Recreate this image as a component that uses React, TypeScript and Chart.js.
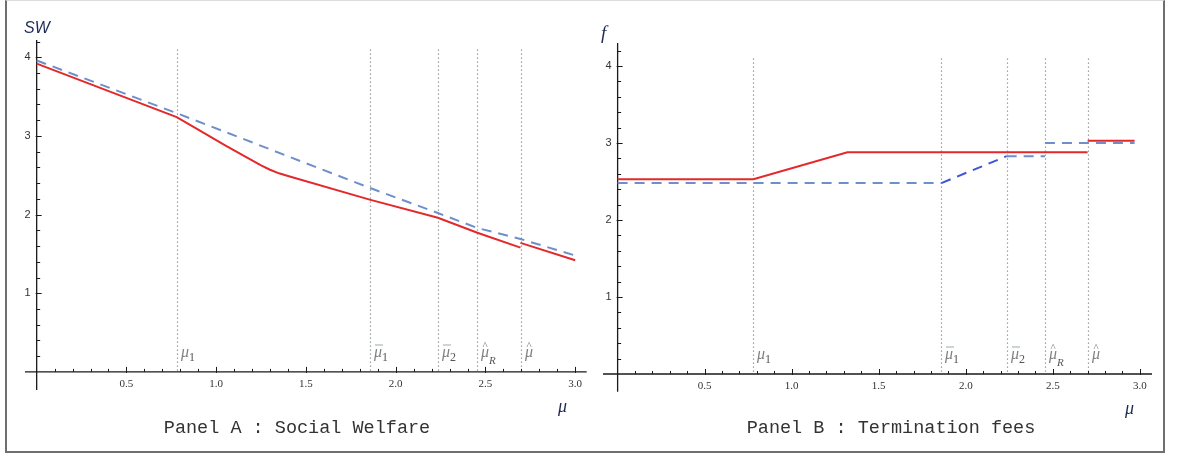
import React, { useEffect, useRef } from "react";
import { Chart, registerables } from "chart.js";
Chart.register(...registerables);

// ---- data ----
const MU_MARKS = [0.78, 1.855, 2.235, 2.455, 2.7];
const MU_LABELS = [
  { sub: "1", acc: "" },
  { sub: "1", acc: "bar" },
  { sub: "2", acc: "bar" },
  { sub: "R", acc: "hat" },
  { sub: "", acc: "hat" },
];
const X_TICKS = [0.5, 1.0, 1.5, 2.0, 2.5, 3.0];
const X_TICK_LABELS = ["0.5", "1.0", "1.5", "2.0", "2.5", "3.0"];
const Y_TICKS = [1, 2, 3, 4];
const Y_TICK_LABELS = ["1", "2", "3", "4"];

// Panel A : Social Welfare
const SW_RED_X = [0, 0.78, 0.9, 1.05, 1.2, 1.25, 1.3, 1.35, 1.4, 1.855, 2.235, 2.455, 2.695, 2.695, 2.695, 3.0];
const SW_RED_Y = [3.92, 3.24, 3.08, 2.88, 2.69, 2.625, 2.57, 2.525, 2.49, 2.19, 1.96, 1.77, 1.58, null, 1.64, 1.42];
const SW_BLUE_X = [0, 0.78, 1.855, 2.235, 2.455, 2.695, 3.0];
const SW_BLUE_Y = [3.96, 3.29, 2.34, 2.02, 1.83, 1.69, 1.48];

// Panel B : Termination fees
const F_RED_X = [0, 0.78, 1.32, 2.7, 2.7, 2.7, 2.97];
const F_RED_Y = [2.53, 2.53, 2.88, 2.88, null, 3.03, 3.03];
const F_BLUE_X = [0, 1.86, 2.235, 2.455, 2.455, 2.455, 2.97];
const F_BLUE_Y = [2.48, 2.48, 2.83, 2.83, null, 3.0, 3.0];

const RED = "#e3292b";
const BLUE = "#6e8fca";
const BLUE_RISE = "#3f55d4";

type Lab = { sub: string; acc: string };

function drawMu(ctx: CanvasRenderingContext2D, px: number, by: number, lab: Lab) {
  ctx.save();
  ctx.textAlign = "left";
  ctx.textBaseline = "alphabetic";
  ctx.fillStyle = "#808080";
  ctx.font = "italic 16px 'Liberation Serif'";
  ctx.fillText("μ", px, by);
  const w = ctx.measureText("μ").width;
  if (lab.sub === "R") {
    ctx.fillStyle = "#555";
    ctx.font = "italic 11px 'Liberation Serif'";
    ctx.fillText("R", px + w, by + 7);
  } else if (lab.sub) {
    ctx.fillStyle = "#555";
    ctx.font = "12px 'Liberation Serif'";
    ctx.fillText(lab.sub, px + w, by + 4);
  }
  if (lab.acc === "bar") {
    ctx.strokeStyle = "#9aa";
    ctx.lineWidth = 1;
    ctx.beginPath();
    ctx.moveTo(px + 1, by - 12);
    ctx.lineTo(px + w + 1, by - 12);
    ctx.stroke();
  } else if (lab.acc === "hat") {
    ctx.fillStyle = "#777";
    ctx.font = "11px 'Liberation Serif'";
    ctx.fillText("^", px + 1.5, by - 8);
  }
  ctx.restore();
}

type PanelCfg = {
  id: string;
  yLabel: string;
  yLabelFont: string;
  yLabelX: number;
  yLabelY: number;
  muX: number;
  muY: number;
  title: string;
  titleX: number;
  titleY: number;
  labelY: number;
};

function makePlugin(p: PanelCfg) {
  return {
    id: "axes" + p.id,
    beforeDatasetsDraw(chart: any) {
      const { ctx } = chart;
      const x = chart.scales.x;
      const y = chart.scales.y;
      const x0 = x.getPixelForValue(0);
      const y0 = y.getPixelForValue(0);
      ctx.save();
      // dotted markers
      ctx.strokeStyle = "#8a8a8a";
      ctx.lineWidth = 1.2;
      ctx.setLineDash([1.3, 2.7]);
      for (const m of MU_MARKS) {
        const px = Math.round(x.getPixelForValue(m)) + 0.5;
        ctx.beginPath();
        ctx.moveTo(px, y.getPixelForValue(4.1));
        ctx.lineTo(px, y0);
        ctx.stroke();
      }
      ctx.setLineDash([]);
      // axes
      ctx.strokeStyle = "#1a1a1a";
      ctx.lineWidth = 1.3;
      ctx.beginPath();
      ctx.moveTo(x.left, y0);
      ctx.lineTo(x.right, y0);
      ctx.moveTo(x0, y.top);
      ctx.lineTo(x0, y.bottom);
      ctx.stroke();
      // x ticks
      ctx.lineWidth = 1;
      for (let i = 1; i <= 30; i++) {
        const v = i / 10;
        const major = i % 5 === 0;
        const px = Math.round(x.getPixelForValue(v)) + 0.5;
        ctx.beginPath();
        ctx.moveTo(px, y0 + (major ? 1 : 0));
        ctx.lineTo(px, y0 - (major ? 5 : 3));
        ctx.stroke();
      }
      // y ticks
      for (let i = 1; i <= 21; i++) {
        const v = i / 5;
        if (y.getPixelForValue(v) < y.top) break;
        const major = i % 5 === 0;
        const py = Math.round(y.getPixelForValue(v)) + 0.5;
        ctx.beginPath();
        ctx.moveTo(x0 - (major ? 1 : 0), py);
        ctx.lineTo(x0 + (major ? 5 : 3.5), py);
        ctx.stroke();
      }
      // tick labels
      ctx.fillStyle = "#333";
      ctx.font = "11px 'Liberation Serif'";
      ctx.textAlign = "center";
      ctx.textBaseline = "middle";
      X_TICKS.forEach((v, i) => {
        ctx.fillText(X_TICK_LABELS[i], x.getPixelForValue(v), y0 + 12);
      });
      ctx.font = "11px 'Liberation Sans'";
      ctx.textAlign = "right";
      Y_TICKS.forEach((v, i) => {
        ctx.fillText(Y_TICK_LABELS[i], x0 - 6, y.getPixelForValue(v));
      });
      ctx.restore();
    },
    afterDatasetsDraw(chart: any) {
      const { ctx } = chart;
      const x = chart.scales.x;
      MU_MARKS.forEach((m, i) => {
        drawMu(ctx, Math.round(x.getPixelForValue(m)) + 4, p.labelY, MU_LABELS[i]);
      });
      ctx.save();
      ctx.fillStyle = "#1d2a55";
      ctx.font = p.yLabelFont;
      ctx.textAlign = "left";
      ctx.textBaseline = "alphabetic";
      ctx.fillText(p.yLabel, p.yLabelX, p.yLabelY);
      ctx.font = "italic 18px 'Liberation Serif'";
      ctx.fillText("μ", p.muX, p.muY);
      ctx.fillStyle = "#333";
      ctx.font = "18.5px 'Liberation Mono'";
      ctx.textAlign = "center";
      ctx.fillText(p.title, p.titleX, p.titleY);
      ctx.restore();
    },
  };
}

function pts(xs: number[], ys: (number | null)[]) {
  return xs.map((x, i) => ({ x, y: ys[i] }));
}

function makeConfig(
  p: PanelCfg,
  red: any[],
  blue: any[],
  xr: [number, number],
  yr: [number, number],
  pad: any,
  riseFrom: number | null
) {
  return {
    type: "line",
    data: {
      datasets: [
        {
          data: blue,
          borderColor: BLUE,
          borderWidth: 2,
          borderDash: [10, 7],
          pointRadius: 0,
          fill: false,
          tension: 0,
          spanGaps: false,
          segment: riseFrom === null ? undefined : {
            borderColor: (c: any) => (Math.abs(c.p0.parsed.x - riseFrom) < 1e-6 ? BLUE_RISE : BLUE),
          },
        },
        {
          data: red,
          borderColor: RED,
          borderWidth: 2,
          pointRadius: 0,
          fill: false,
          tension: 0,
          spanGaps: false,
        },
      ],
    },
    options: {
      animation: false,
      responsive: false,
      devicePixelRatio: 1,
      layout: { padding: pad },
      plugins: { legend: { display: false }, tooltip: { enabled: false } },
      scales: {
        x: { type: "linear", min: xr[0], max: xr[1], display: false },
        y: { type: "linear", min: yr[0], max: yr[1], display: false },
      },
    },
    plugins: [makePlugin(p)],
  };
}

function Panel(props: { cfg: any; left: number; width: number }) {
  const ref = useRef<HTMLCanvasElement>(null);
  useEffect(() => {
    const chart = new Chart(ref.current as HTMLCanvasElement, props.cfg);
    return () => chart.destroy();
  }, []);
  return (
    <canvas
      ref={ref}
      width={props.width}
      height={458}
      style={{ position: "absolute", left: props.left, top: 0, width: props.width, height: 458 }}
    />
  );
}

const PANEL_A: PanelCfg = {
  id: "A",
  yLabel: "SW",
  yLabelFont: "italic 16px 'Liberation Sans'",
  yLabelX: 24,
  yLabelY: 33,
  muX: 558,
  muY: 412,
  title: "Panel A : Social Welfare",
  titleX: 297,
  titleY: 433,
  labelY: 357,
};
const PANEL_B: PanelCfg = {
  id: "B",
  yLabel: "f",
  yLabelFont: "italic 19px 'Liberation Serif'",
  yLabelX: 10,
  yLabelY: 39,
  muX: 534,
  muY: 414,
  title: "Panel B : Termination fees",
  titleX: 300,
  titleY: 433,
  labelY: 359,
};

export default function App() {
  const cfgA = makeConfig(
    PANEL_A,
    pts(SW_RED_X, SW_RED_Y),
    pts(SW_BLUE_X, SW_BLUE_Y),
    [-0.065, 3.064],
    [-0.23, 4.22],
    { left: 25, right: 4.3, top: 40, bottom: 68 },
    null
  );
  const cfgB = makeConfig(
    PANEL_B,
    pts(F_RED_X, F_RED_Y),
    pts(F_BLUE_X, F_BLUE_Y),
    [-0.084, 3.07],
    [-0.23, 4.3],
    { left: 12, right: 30, top: 43, bottom: 66.3 },
    1.86
  );
  return (
    <div style={{ position: "absolute", left: 0, top: 0, width: 1182, height: 458, background: "#fff" }}>
      <div
        style={{
          position: "absolute",
          left: 5,
          top: 0,
          width: 1160,
          height: 453,
          borderLeft: "2px solid #6f6f6f",
          borderRight: "2px solid #6f6f6f",
          borderBottom: "2px solid #6f6f6f",
          borderTop: "1px solid #dcdcdc",
          boxSizing: "border-box",
        }}
      />
      <Panel cfg={cfgA} left={0} width={591} />
      <Panel cfg={cfgB} left={591} width={591} />
    </div>
  );
}
